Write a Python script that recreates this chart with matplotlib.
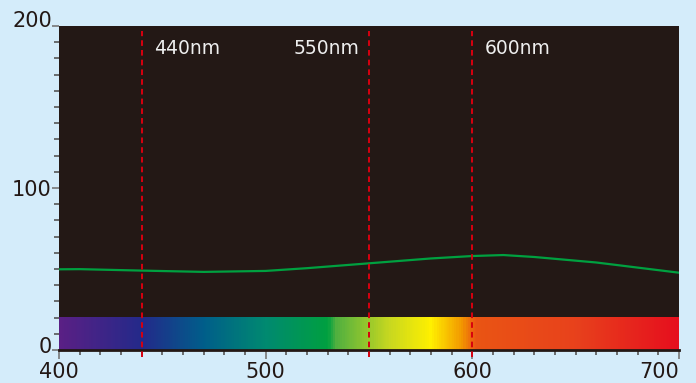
import numpy as np
import matplotlib
matplotlib.use("Agg")
import matplotlib.pyplot as plt
import matplotlib.transforms as mtrans
from matplotlib.colors import LinearSegmentedColormap
from matplotlib.ticker import MultipleLocator

# 曲線データ (波長 nm, 値)
wl = [400, 410, 440, 470, 500, 520, 550, 580, 600, 615, 630, 660, 700]
val = [49.8, 49.9, 49.0, 48.2, 48.8, 50.5, 53.5, 56.5, 58.0, 58.6, 57.4, 54.0, 47.7]

# 破線とラベル
marks = [440, 550, 600]
mark_labels = ["440nm", "550nm", "600nm"]

# スペクトル帯の色
spec_pos = [400, 440, 470, 500, 530, 534, 560, 580, 595, 602, 650, 700]
spec_col = ["#5a2085", "#232a8a", "#005f8a", "#008a70", "#00a040", "#50b040",
            "#c8d820", "#fff000", "#f39800", "#ea5514", "#e8421c", "#e60f1e"]

bg = "#d4ecfa"
dark = "#231815"

fig = plt.figure(figsize=(6.96, 3.83), dpi=100, facecolor=bg)
ax = fig.add_axes([0.0848, 0.0862, 0.8908, 0.846], facecolor=dark)

# スペクトル帯
pos = [(p - 400) / 300 for p in spec_pos]
cmap = LinearSegmentedColormap.from_list("spec", list(zip(pos, spec_col)))
ax.imshow(np.linspace(0, 1, 600).reshape(1, -1), cmap=cmap, aspect="auto",
          extent=[400, 700, 0, 20], zorder=1)

ax.plot(wl, val, color="#00a040", lw=1.6, zorder=3)

for m, lab in zip(marks, mark_labels):
    ax.plot([m, m], [-4.3, 197], color="#d7000f", lw=1.4, ls=(0, (2.9, 2.1)),
            clip_on=False, zorder=4)
    if m == 550:
        ax.text(m - 4.5, 186, lab, color="#eeeeee", fontsize=13.5, ha="right", va="center")
    else:
        ax.text(m + 6, 186, lab, color="#eeeeee", fontsize=13.5, ha="left", va="center")

ax.set_xlim(400, 700)
ax.set_ylim(0, 200)
ax.set_xticks([400, 500, 600, 700])
ax.set_yticks([0, 100, 200])
ax.xaxis.set_minor_locator(MultipleLocator(10))
ax.yaxis.set_minor_locator(MultipleLocator(10))
ax.tick_params(which="major", width=1.2, color="#777777", labelsize=15, labelcolor=dark)
ax.tick_params(axis="y", which="major", length=4.7, pad=0.5)
ax.tick_params(axis="x", which="major", length=6.5, pad=2.5)
ax.tick_params(which="minor", length=3.6, width=1.2, color="#555555")
for s in ax.spines.values():
    s.set_visible(False)
ax.spines["bottom"].set_visible(True)
ax.spines["bottom"].set_color(dark)
ax.spines["bottom"].set_linewidth(2)

# 目盛ラベルの位置調整
fig.canvas.draw()
xl = ax.get_xticklabels()
xl[-1].set_ha("right")
yl = ax.get_yticklabels()
yl[0].set_transform(yl[0].get_transform() + mtrans.ScaledTranslation(0, 0.05, fig.dpi_scale_trans))
yl[-1].set_transform(yl[-1].get_transform() + mtrans.ScaledTranslation(0, 0.07, fig.dpi_scale_trans))

fig.savefig("out.png", dpi=100, facecolor=bg)
